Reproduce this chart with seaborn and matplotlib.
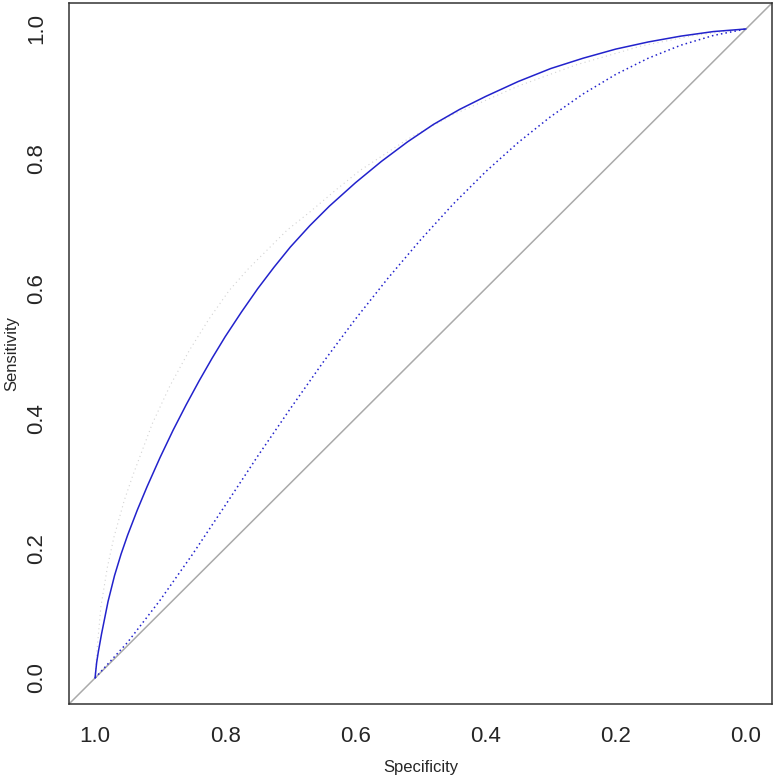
import matplotlib
matplotlib.use("Agg")
import matplotlib.pyplot as plt
import seaborn as sns
import pandas as pd

# smoothed ROC curve (solid blue), read as false-positive rate -> sensitivity
fpr_smooth = [0.0, 0.0025, 0.005, 0.01, 0.02, 0.03, 0.04, 0.05, 0.065, 0.08, 0.1,
              0.12, 0.14, 0.16, 0.18, 0.2, 0.225, 0.25, 0.275, 0.3, 0.33,
              0.36, 0.4, 0.44, 0.48, 0.52, 0.56, 0.6, 0.65, 0.7, 0.75,
              0.8, 0.85, 0.9, 0.95, 1.0]
sens_smooth = [0.0, 0.024, 0.04, 0.068, 0.118, 0.158, 0.191, 0.22, 0.259, 0.295, 0.34,
               0.382, 0.421, 0.458, 0.493, 0.526, 0.564, 0.60, 0.633, 0.664, 0.697,
               0.727, 0.763, 0.796, 0.826, 0.853, 0.876, 0.896, 0.919, 0.939, 0.955,
               0.969, 0.98, 0.989, 0.996, 1.0]

# second ROC curve (dotted blue)
fpr_dot = [0.0, 0.05, 0.1, 0.15, 0.2, 0.25, 0.3, 0.35, 0.4, 0.45,
           0.5, 0.55, 0.6, 0.65, 0.7, 0.75, 0.8, 0.85, 0.9, 0.95, 1.0]
sens_dot = [0.0, 0.055, 0.12, 0.191, 0.266, 0.342, 0.415, 0.486, 0.553, 0.616,
            0.675, 0.73, 0.78, 0.825, 0.865, 0.90, 0.93, 0.955, 0.975, 0.99, 1.0]

# faint grey curve
spec_faint = [1.0, 0.997, 0.991, 0.981, 0.971, 0.955, 0.942, 0.912, 0.885, 0.855,
              0.825, 0.794, 0.765, 0.737, 0.705, 0.67, 0.63, 0.593, 0.555, 0.52,
              0.45, 0.35, 0.26, 0.16, 0.08, 0.0]
sens_faint = [0.0, 0.043, 0.11, 0.171, 0.217, 0.274, 0.312, 0.392, 0.45, 0.505,
              0.553, 0.597, 0.63, 0.658, 0.69, 0.718, 0.752, 0.782, 0.807, 0.83,
              0.868, 0.912, 0.945, 0.974, 0.99, 1.0]

ticks = [0.0, 0.2, 0.4, 0.6, 0.8, 1.0]

sns.set_style("white")
plt.rcParams["font.family"] = ["Liberation Sans", "DejaVu Sans"]

fig = plt.figure(figsize=(7.73, 7.77), dpi=100)
ax = fig.add_axes([69 / 773, 73 / 777, 703 / 773, 701 / 777])

df_smooth = pd.DataFrame({"Specificity": [1 - f for f in fpr_smooth], "Sensitivity": sens_smooth})
df_dot = pd.DataFrame({"Specificity": [1 - f for f in fpr_dot], "Sensitivity": sens_dot})
df_faint = pd.DataFrame({"Specificity": spec_faint, "Sensitivity": sens_faint})

ax.axline((0, 1), slope=-1, color="#aaaaaa", lw=1.1, zorder=1)
sns.lineplot(data=df_faint, x="Specificity", y="Sensitivity", sort=False, ax=ax,
             color="#d2d2d2", lw=0.8, linestyle=(0, (1, 3)), zorder=2)
sns.lineplot(data=df_dot, x="Specificity", y="Sensitivity", sort=False, ax=ax,
             color="#2222cc", lw=1.1, linestyle=(0, (1, 2)), zorder=3)
sns.lineplot(data=df_smooth, x="Specificity", y="Sensitivity", sort=False, ax=ax,
             color="#2222cc", lw=1.1, zorder=4)

ax.set_xlim(1.04, -0.04)
ax.set_ylim(-0.04, 1.04)
ax.set_xticks(ticks)
ax.set_yticks(ticks)
ax.set_xticklabels([f"{t:.1f}" for t in ticks], fontsize=16)
ax.set_yticklabels([f"{t:.1f}" for t in ticks], fontsize=16, rotation=90, va="center")
ax.tick_params(direction="out", length=7, width=1, color="#333333", pad=9)
ax.set_xlabel("Specificity", fontsize=12, labelpad=9)
ax.set_ylabel("Sensitivity", fontsize=12, labelpad=5)
for s in ax.spines.values():
    s.set_visible(True)
    s.set_color("#333333")
    s.set_linewidth(1.1)

fig.savefig("out.png", dpi=100)
